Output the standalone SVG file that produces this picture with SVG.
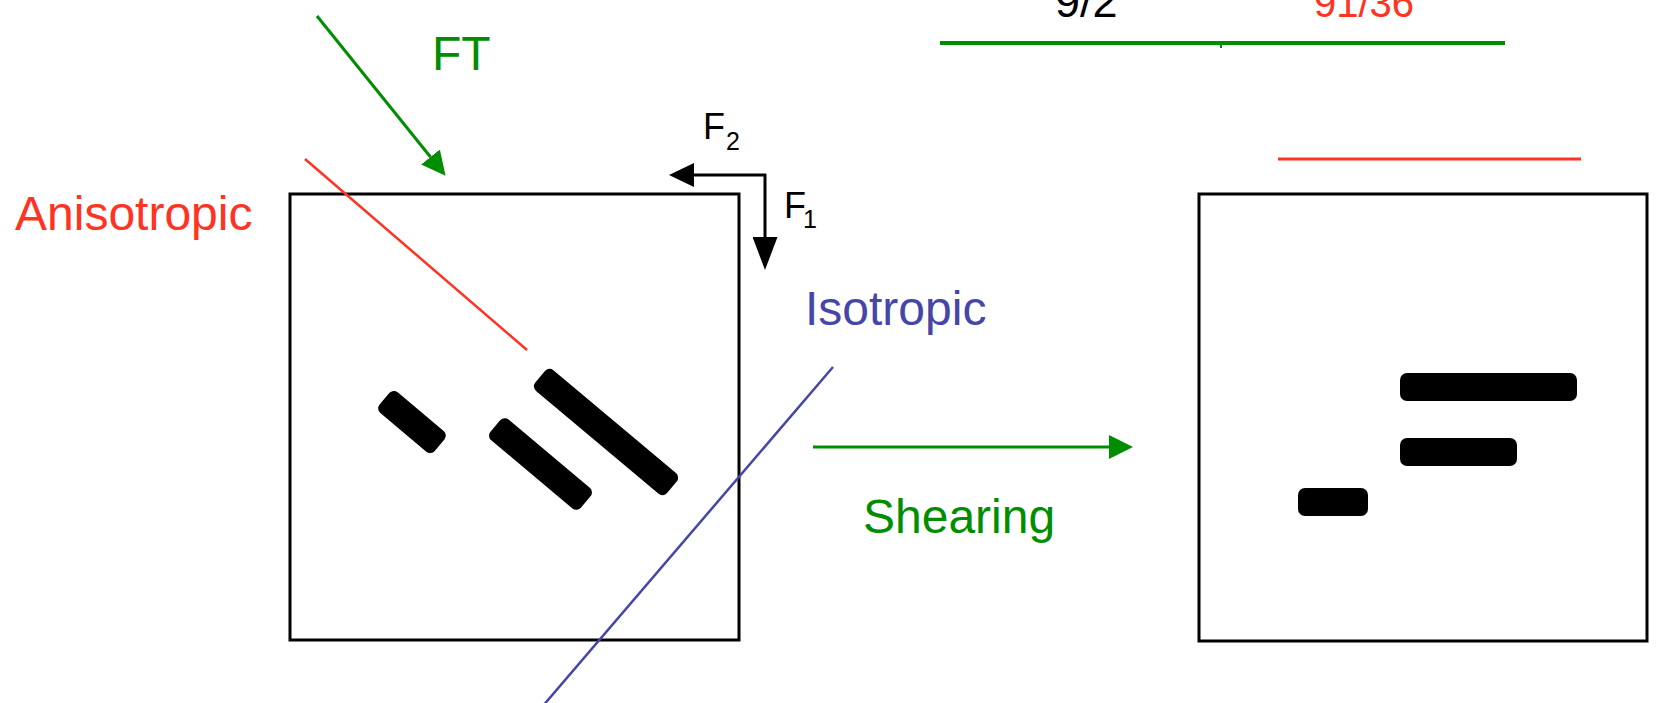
<svg xmlns="http://www.w3.org/2000/svg" width="1664" height="703" viewBox="0 0 1664 703">
<style>
text{font-family:"Liberation Sans",Arial,sans-serif}
.box{fill:#fff;stroke:#000;stroke-width:3}
.blob{fill:#000}
.green{fill:#008E00}
.red{fill:#FF3322}
.blue{fill:#4646A8}
.blk{fill:#000}
.gline{stroke:#008E00;stroke-width:3;fill:none}
.kline{stroke:#000;stroke-width:3;fill:none}
</style>
<defs>
<marker id="ag" markerUnits="userSpaceOnUse" markerWidth="24" markerHeight="24" refX="0" refY="12" orient="auto" viewBox="0 0 24 24"><path d="M0,0 L24,12 L0,24 z" fill="#008E00"/></marker>
<marker id="ak" markerUnits="userSpaceOnUse" markerWidth="25" markerHeight="24" refX="0" refY="12" orient="auto" viewBox="0 0 25 24"><path d="M0,0 L25,12 L0,24 z" fill="#000"/></marker>
<marker id="akl" markerUnits="userSpaceOnUse" markerWidth="33" markerHeight="25" refX="0" refY="12.5" orient="auto" viewBox="0 0 33 25"><path d="M0,0 L33,12.5 L0,25 z" fill="#000"/></marker>
</defs>
<rect width="1664" height="703" fill="#fff"/>
<g id="top-values">
<text x="1055" y="17" font-size="45" class="blk">9/2</text>
<text x="1314" y="17" font-size="40" class="red">91/36</text>
<line x1="940" y1="43" x2="1505" y2="43" stroke="#008E00" stroke-width="4"/>
<line x1="1221" y1="43" x2="1221" y2="48" stroke="#008E00" stroke-width="2"/>
</g>
<g id="left-sample">
<rect class="box" x="290" y="194" width="449" height="446"/>
<rect class="blob" x="-36" y="-13.5" width="72" height="27" rx="6" transform="translate(412 422) rotate(40)"/>
<rect class="blob" x="-59" y="-13.5" width="118" height="27" rx="6" transform="translate(540.5 464) rotate(40)"/>
<rect class="blob" x="-86" y="-13.5" width="172" height="27" rx="6" transform="translate(606 432) rotate(40)"/>
</g>
<g id="right-sample">
<rect class="box" x="1199" y="194" width="448" height="447"/>
<rect class="blob" x="1400" y="373" width="177" height="28" rx="7"/>
<rect class="blob" x="1400" y="438" width="117" height="28" rx="7"/>
<rect class="blob" x="1298" y="488" width="70" height="28" rx="7"/>
</g>
<g id="anisotropic">
<line x1="305" y1="159" x2="527" y2="350" stroke="#FF3322" stroke-width="2.5"/>
<line x1="1278" y1="159" x2="1581" y2="159" stroke="#FF3322" stroke-width="3"/>
<text x="15" y="230" font-size="48" class="red">Anisotropic</text>
</g>
<g id="isotropic">
<line x1="833" y1="367" x2="542" y2="707" stroke="#4646A8" stroke-width="2.5"/>
<text x="805" y="325" font-size="48" class="blue">Isotropic</text>
</g>
<g id="labels">
<text x="432" y="70" font-size="48" class="green">FT</text>
<text x="863" y="533" font-size="48" class="green">Shearing</text>
<text x="703" y="139" font-size="36" class="blk">F<tspan font-size="25" dx="1" dy="11">2</tspan></text>
<text x="784" y="218" font-size="36" class="blk">F<tspan font-size="25" dx="-3" dy="10">1</tspan></text>
</g>
<g id="connectors">
<line class="gline" x1="317" y1="16" x2="430.5" y2="157" marker-end="url(#ag)"/>
<line class="gline" x1="813" y1="447" x2="1109" y2="447" marker-end="url(#ag)"/>
<line class="kline" x1="766" y1="175" x2="694" y2="175" marker-end="url(#ak)"/>
<line class="kline" x1="765" y1="174" x2="765" y2="237" marker-end="url(#akl)"/>
</g>
</svg>
